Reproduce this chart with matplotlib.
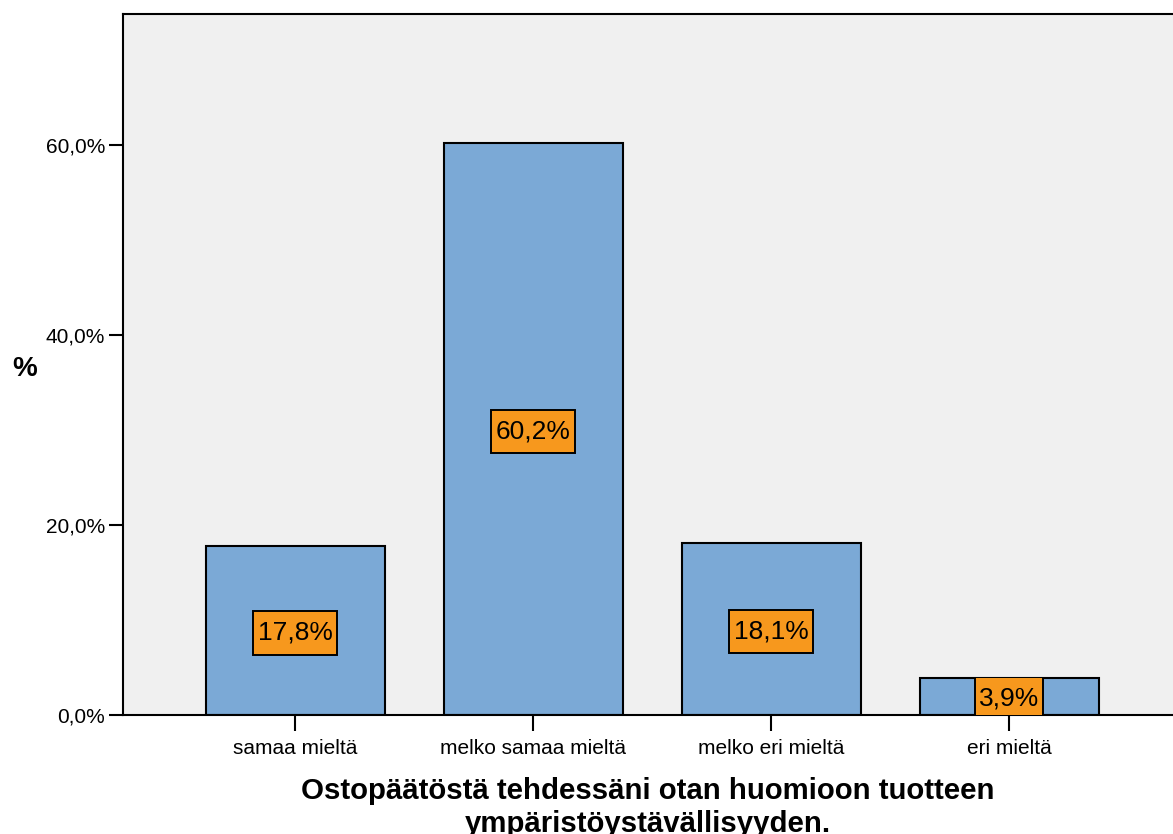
import matplotlib
matplotlib.use('Agg')
import matplotlib.pyplot as plt
from matplotlib.path import Path
import numpy as np

plt.rcParams['font.family'] = ['Liberation Sans', 'DejaVu Sans']

# data
categories = ['samaa mieltä', 'melko samaa mieltä', 'melko eri mieltä', 'eri mieltä']
percents = [17.8, 60.2, 18.1, 3.9]
y_ticks = [0, 20, 40, 60]
title = 'Ostopäätöstä tehdessäni otan huomioon tuotteen\nympäristöystävällisyyden.'

bar_color = '#7ba9d6'
label_color = '#f7981d'


def label_box(x0, y0, width, height, mutation_size):
    """Square box, less padding at the sides than at top/bottom."""
    px = 0.16 * mutation_size
    py = 0.37 * mutation_size
    x0, y0 = x0 - px, y0 - py
    x1, y1 = x0 + width + 2 * px, y0 + height + 2 * py
    return Path([(x0, y0), (x1, y0), (x1, y1), (x0, y1), (x0, y0)], closed=True)


x = np.arange(len(categories))

fig = plt.figure(figsize=(11.73, 8.34), dpi=100)
ax = fig.add_axes([0.1049, 0.1427, 0.8951, 0.8405])
ax.set_facecolor('#f0f0f0')

bars = ax.bar(x, percents, 0.752, color=bar_color, edgecolor='black', linewidth=1.5, zorder=2)

# value labels in the middle of each bar, clipped to the bar
for rect, v in zip(bars, percents):
    t = ax.text(rect.get_x() + rect.get_width() / 2, v / 2 - 0.26,
                '{:.1f}%'.format(v).replace('.', ','),
                ha='center', va='center', fontsize=19, zorder=3,
                bbox=dict(boxstyle=label_box, facecolor=label_color,
                          edgecolor='black', linewidth=1.4))
    t.set_clip_path(rect)
    t.get_bbox_patch().set_clip_path(rect)
    t.get_bbox_patch().set_clip_on(True)

ax.set_xlim(-0.723, 3.689)
ax.set_ylim(0, 73.8)
ax.set_xticks(x)
ax.set_xticklabels(categories, fontsize=15)
ax.set_yticks(y_ticks)
ax.set_yticklabels(['{:.1f}%'.format(t).replace('.', ',') for t in y_ticks], fontsize=15)
ax.tick_params(axis='x', length=11.5, width=1.5, direction='out', pad=6)
ax.tick_params(axis='y', length=10, width=1.5, direction='out', pad=3)

for s in ['left', 'bottom', 'top']:
    ax.spines[s].set_linewidth(1.5)
ax.spines['right'].set_visible(False)

ax.set_ylabel('%', fontsize=20, fontweight='bold', rotation=0, ha='center', va='center')
ax.yaxis.set_label_coords(-0.0933, 0.494)
ax.set_xlabel(title, fontsize=21.2, fontweight='bold', linespacing=1.23, va='top')
ax.xaxis.set_label_coords(0.5, -0.088)

fig.savefig('out.png', dpi=100)
